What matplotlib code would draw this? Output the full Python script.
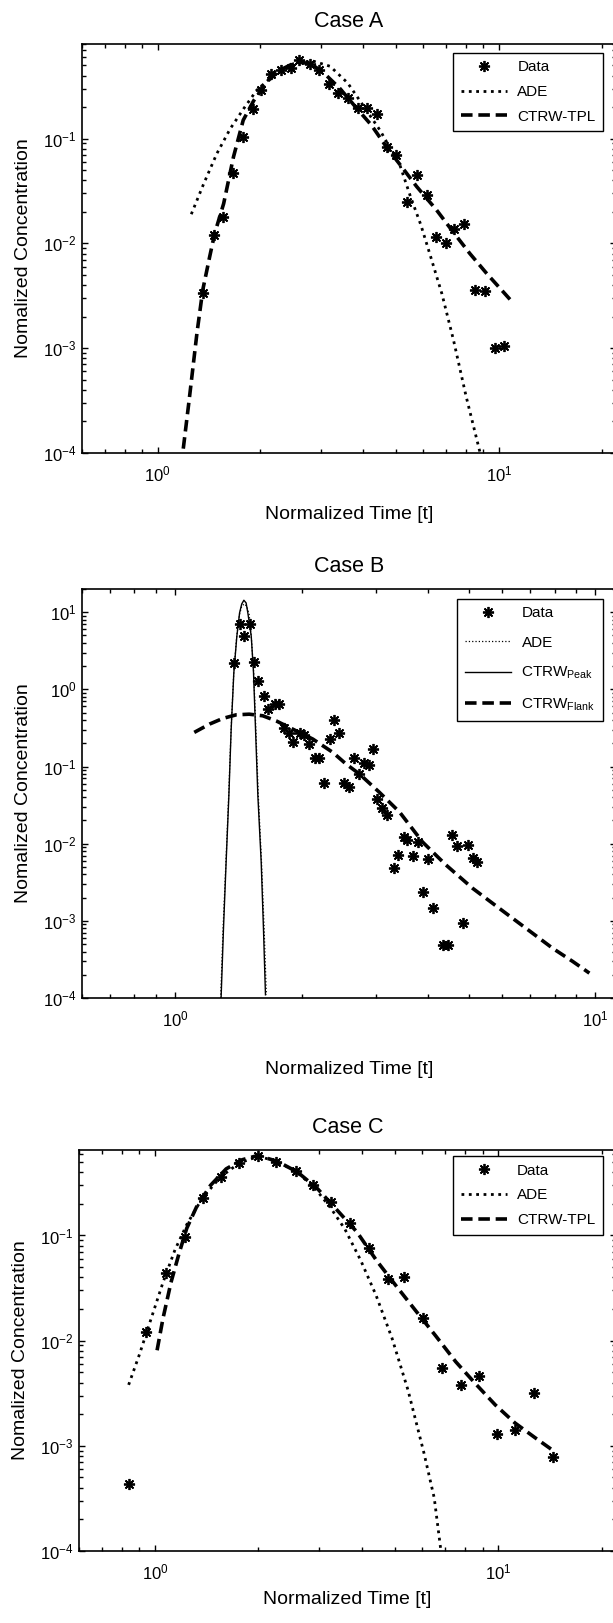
import matplotlib
matplotlib.use("Agg")
import matplotlib.pyplot as plt
from matplotlib.ticker import LogLocator, NullFormatter, LogFormatterSciNotation

plt.rcParams['font.family'] = ['Liberation Sans', 'DejaVu Sans']
plt.rcParams['mathtext.default'] = 'regular'

# ---- Case A ----
a_data_t = [1.36, 1.46, 1.55, 1.66, 1.78, 1.90, 2.01, 2.15, 2.29, 2.45, 2.60, 2.79,
            2.96, 3.17, 3.38, 3.60, 3.86, 4.10, 4.38, 4.68, 5.00, 5.37, 5.74, 6.14,
            6.53, 7.00, 7.40, 7.90, 8.50, 9.10, 9.70, 10.35]
a_data_c = [3.4e-3, 0.012, 0.018, 0.047, 0.103, 0.193, 0.288, 0.41, 0.45, 0.47, 0.56, 0.51,
            0.45, 0.335, 0.275, 0.245, 0.198, 0.195, 0.172, 0.083, 0.070, 0.0248, 0.0447, 0.029,
            0.0114, 0.0101, 0.0138, 0.0154, 3.6e-3, 3.5e-3, 1.0e-3, 1.06e-3]
a_ade_t = [1.254, 1.363, 1.49, 1.63, 1.785, 1.95, 2.18, 2.50, 2.85, 3.2, 3.6, 3.91,
           4.48, 5.13, 5.5, 5.9, 6.3, 6.8, 7.35, 8.0, 8.8]
a_ade_c = [0.019, 0.037, 0.072, 0.124, 0.193, 0.29, 0.40, 0.52, 0.55, 0.49, 0.34, 0.23,
           0.12, 0.055, 0.028, 0.015, 7.5e-3, 3.3e-3, 1.2e-3, 3.5e-4, 1.0e-4]
a_ctrw_t = [1.188, 1.236, 1.303, 1.355, 1.42, 1.468, 1.56, 1.667, 1.78, 1.91, 2.09, 2.28,
            2.55, 2.8, 3.05, 3.42, 3.8, 4.23, 4.68, 5.18, 5.73, 6.56, 7.33, 8.21, 9.18, 11.0]
a_ctrw_c = [1.1e-4, 3.2e-4, 1.4e-3, 3.6e-3, 7.5e-3, 0.0124, 0.024, 0.067, 0.15, 0.23, 0.35, 0.45,
            0.54, 0.52, 0.43, 0.30, 0.20, 0.134, 0.083, 0.054, 0.035, 0.0208, 0.0129, 8.0e-3, 5.2e-3, 2.7e-3]

# ---- Case B ----
b_data_t = [1.379, 1.424, 1.461, 1.505, 1.54, 1.575, 1.626, 1.665, 1.726, 1.765, 1.814, 1.862,
            1.91, 1.985, 2.03, 2.085, 2.15, 2.2, 2.257, 2.33, 2.386, 2.455, 2.52, 2.59,
            2.66, 2.74, 2.81, 2.885, 2.96, 3.03, 3.11, 3.2, 3.32, 3.39, 3.5, 3.57,
            3.68, 3.79, 3.89, 4.0, 4.11, 4.34, 4.45, 4.57, 4.69, 4.83, 4.98, 5.11, 5.22]
b_data_c = [2.2, 7.1, 4.9, 7.0, 2.27, 1.27, 0.83, 0.55, 0.65, 0.65, 0.317, 0.27,
            0.207, 0.27, 0.26, 0.196, 0.128, 0.128, 0.062, 0.23, 0.405, 0.27, 0.061, 0.055,
            0.128, 0.079, 0.11, 0.1035, 0.167, 0.0377, 0.029, 0.0233, 4.9e-3, 7.2e-3, 0.0123, 0.0111,
            6.9e-3, 0.0105, 2.4e-3, 6.3e-3, 1.47e-3, 4.9e-4, 4.9e-4, 0.013, 9.4e-3, 9.5e-4, 9.7e-3, 6.5e-3, 5.8e-3]
b_ade_t = [1.283, 1.30, 1.32, 1.34, 1.358, 1.378, 1.40, 1.422, 1.44, 1.46, 1.48, 1.50,
           1.518, 1.538, 1.556, 1.577, 1.605, 1.628, 1.648]
b_ade_c = [1e-4, 8e-4, 5.5e-3, 0.04, 0.29, 1.6, 4.7, 9.3, 12.0, 12.8, 12.0, 9.3,
           4.7, 1.6, 0.3, 0.042, 5.8e-3, 8e-4, 1.1e-4]
b_peak_t = [1.286, 1.303, 1.322, 1.342, 1.359, 1.379, 1.402, 1.423, 1.44, 1.457, 1.475, 1.489,
            1.517, 1.536, 1.553, 1.573, 1.602, 1.622, 1.64]
b_peak_c = [1e-4, 8e-4, 5.8e-3, 0.042, 0.305, 1.65, 4.9, 9.8, 12.8, 14.3, 13.2, 9.8,
            4.9, 1.65, 0.305, 0.042, 5.8e-3, 8e-4, 1.1e-4]
b_flank_t = [1.11, 1.207, 1.298, 1.397, 1.50, 1.616, 1.74, 1.905, 2.126, 2.37, 2.55, 2.745,
             3.06, 3.42, 3.88, 4.41, 5.11, 5.91, 6.84, 7.92, 8.84, 9.68]
b_flank_c = [0.277, 0.355, 0.42, 0.468, 0.477, 0.455, 0.39, 0.305, 0.227, 0.153, 0.108, 0.080,
             0.0465, 0.0257, 0.0105, 5.3e-3, 2.63e-3, 1.45e-3, 8.0e-4, 4.4e-4, 2.97e-4, 2.1e-4]

# ---- Case C ----
c_data_t = [0.837, 0.943, 1.077, 1.22, 1.374, 1.557, 1.76, 1.993, 2.246, 2.564, 2.89, 3.256,
            3.69, 4.19, 4.76, 5.32, 6.03, 6.84, 7.77, 8.8, 9.92, 11.2, 12.66, 14.4]
c_data_c = [4.3e-4, 0.0122, 0.0436, 0.096, 0.229, 0.359, 0.485, 0.568, 0.505, 0.414, 0.302, 0.207,
            0.132, 0.076, 0.0382, 0.0403, 0.0163, 5.5e-3, 3.8e-3, 4.6e-3, 1.3e-3, 1.4e-3, 3.2e-3, 7.8e-4]
c_ade_t = [0.837, 0.9, 0.974, 1.054, 1.142, 1.236, 1.37, 1.55, 1.76, 2.0, 2.25, 2.56,
           2.9, 3.256, 3.57, 3.97, 4.4, 4.9, 5.45, 6.07, 6.5, 6.8]
c_ade_c = [3.8e-3, 7.4e-3, 0.0163, 0.0358, 0.073, 0.127, 0.225, 0.36, 0.49, 0.565, 0.51, 0.41,
           0.29, 0.18, 0.115, 0.058, 0.027, 0.0105, 3.4e-3, 8.5e-4, 3.2e-4, 1e-4]
c_ctrw_t = [1.013, 1.054, 1.112, 1.173, 1.236, 1.321, 1.45, 1.61, 1.793, 1.993, 2.276, 2.6,
            2.97, 3.39, 3.87, 4.42, 5.04, 5.76, 6.58, 7.51, 8.57, 9.79, 11.17, 12.76, 14.58]
c_ctrw_c = [8.1e-3, 0.0163, 0.0358, 0.067, 0.117, 0.188, 0.30, 0.43, 0.525, 0.577, 0.505, 0.40,
            0.279, 0.174, 0.108, 0.0575, 0.033, 0.019, 0.011, 6.3e-3, 3.9e-3, 2.45e-3, 1.65e-3, 1.2e-3, 8.8e-4]

star = (8, 2, 0)
W, H = 613, 1623


def style_axes(ax, xlim, ylim):
    ax.set_xscale('log')
    ax.set_yscale('log')
    ax.set_xlim(*xlim)
    ax.set_ylim(*ylim)
    for s in ax.spines.values():
        s.set_linewidth(1.2)
    ax.xaxis.set_major_locator(LogLocator(base=10, numticks=10))
    ax.yaxis.set_major_locator(LogLocator(base=10, numticks=10))
    ax.xaxis.set_minor_locator(LogLocator(base=10, subs=range(2, 10), numticks=20))
    ax.yaxis.set_minor_locator(LogLocator(base=10, subs=range(2, 10), numticks=20))
    ax.xaxis.set_minor_formatter(NullFormatter())
    ax.yaxis.set_minor_formatter(NullFormatter())
    ax.xaxis.set_major_formatter(LogFormatterSciNotation())
    ax.yaxis.set_major_formatter(LogFormatterSciNotation())
    ax.tick_params(which='both', direction='in', top=True, right=True, width=1.0)
    ax.tick_params(which='major', length=4.5)
    ax.tick_params(which='minor', length=3)
    ax.tick_params(axis='x', which='major', pad=8, labelsize=12)
    ax.tick_params(axis='y', which='major', pad=4, labelsize=12)
    ax.set_xlabel('Normalized Time [t]', fontsize=14)
    ax.set_ylabel('Nomalized Concentration', fontsize=14)
    ax.yaxis.set_label_coords(-0.094, 0.5)


def add_axes(fig, left, right, top, bottom):
    return fig.add_axes([left / W, 1 - bottom / H, (right - left) / W, (bottom - top) / H])


def add_legend(ax, anchor, spacing=0.7):
    leg = ax.legend(loc='upper right', bbox_to_anchor=anchor, fontsize=11, numpoints=1,
                    fancybox=False, framealpha=1, edgecolor='black', handlelength=3.0,
                    handletextpad=0.7, labelspacing=spacing, borderpad=0.5, borderaxespad=0)
    leg.get_frame().set_linewidth(1.0)


fig = plt.figure(figsize=(W / 100, H / 100), dpi=100)

# Case A
ax = add_axes(fig, 82, 616, 44, 453)
ax.plot(a_data_t, a_data_c, linestyle='none', marker=star, ms=8, mew=1.3, color='black', label='Data')
ax.plot(a_ade_t, a_ade_c, linestyle=':', lw=2.0, color='black', label='ADE')
ax.plot(a_ctrw_t, a_ctrw_c, linestyle=(0, (3.2, 1.6)), lw=2.6, color='black', label='CTRW-TPL')
style_axes(ax, (0.6, 22), (1e-4, 0.8))
ax.xaxis.set_label_coords(0.5, -0.13)
ax.text(0.5, 1.055, 'Case A', transform=ax.transAxes, ha='center', va='center', fontsize=15.5)
add_legend(ax, (0.976, 0.979))

# Case B
ax = add_axes(fig, 82, 616, 589, 998)
ax.plot(b_data_t, b_data_c, linestyle='none', marker=star, ms=8, mew=1.3, color='black', label='Data')
ax.plot(b_ade_t, b_ade_c, linestyle=':', lw=0.9, color='black', label='ADE')
ax.plot(b_peak_t, b_peak_c, linestyle='-', lw=1.0, color='black', label='CTRW$_{Peak}$')
ax.plot(b_flank_t, b_flank_c, linestyle=(0, (3.2, 1.6)), lw=2.6, color='black', label='CTRW$_{Flank}$')
style_axes(ax, (0.6, 11.2), (1e-4, 20))
ax.xaxis.set_label_coords(0.5, -0.155)
ax.text(0.5, 1.055, 'Case B', transform=ax.transAxes, ha='center', va='center', fontsize=15.5)
add_legend(ax, (0.976, 0.976), spacing=1.0)

# Case C
ax = add_axes(fig, 79, 616, 1150, 1551)
ax.plot(c_data_t, c_data_c, linestyle='none', marker=star, ms=8, mew=1.3, color='black', label='Data')
ax.plot(c_ade_t, c_ade_c, linestyle=':', lw=2.0, color='black', label='ADE')
ax.plot(c_ctrw_t, c_ctrw_c, linestyle=(0, (3.2, 1.6)), lw=2.6, color='black', label='CTRW-TPL')
style_axes(ax, (0.6, 22), (1e-4, 0.65))
ax.xaxis.set_label_coords(0.5, -0.10)
ax.text(0.5, 1.055, 'Case C', transform=ax.transAxes, ha='center', va='center', fontsize=15.5)
add_legend(ax, (0.976, 0.985))

fig.savefig('out.png', dpi=100)
